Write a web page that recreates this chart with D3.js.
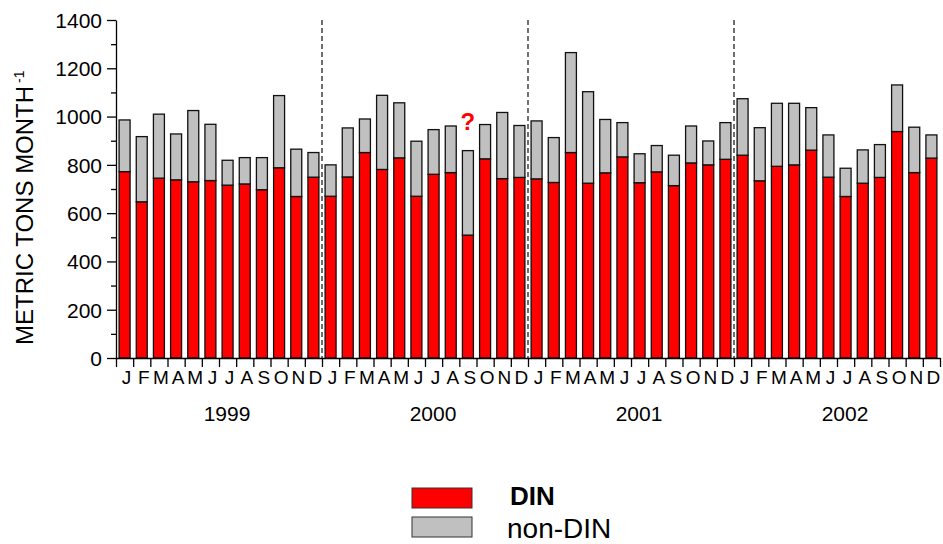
<!DOCTYPE html>
<html>
<head>
<meta charset="utf-8">
<script src="https://cdn.jsdelivr.net/npm/d3@7/dist/d3.min.js"></script>
<style>
  html, body { margin: 0; padding: 0; background: #fff; }
  svg { display: block; }
  text { font-family: "Liberation Sans", Arial, sans-serif; fill: #000; }
</style>
</head>
<body>
<svg id="chart" width="943" height="544"></svg>
<script>
// Monthly loads, 1999-2002 (metric tons per month)
const monthLetters = ["J","F","M","A","M","J","J","A","S","O","N","D"];
const years = ["1999","2000","2001","2002"];

const dinValues = [
  772, 647, 745, 738, 730, 735, 716, 721, 697, 788, 669, 749,
  670, 750, 851, 781, 829, 670, 761, 768, 509, 825, 743, 748,
  742, 727, 851, 724, 767, 833, 726, 771, 714, 808, 800, 823,
  840, 734, 794, 800, 861, 749, 669, 724, 748, 938, 768, 828
];
const nonDinValues = [
  214, 270, 265, 190, 295, 233, 103, 109, 133, 299, 196, 102,
  130, 203, 139, 307, 228, 228, 185, 193, 350, 142, 274, 215,
  240, 186, 414, 379, 221, 142, 120, 109, 126, 153,  99, 152,
  234, 220, 261, 255, 176, 175, 117, 138, 136, 193, 188,  96
];
const yTicks = [0, 200, 400, 600, 800, 1000, 1200, 1400];
const seriesNames = ["DIN", "non-DIN"];
const seriesColors = ["#ff0000", "#c0c0c0"];

const rows = dinValues.map((d, i) => ({ idx: i, "DIN": d, "non-DIN": nonDinValues[i] }));

const svg = d3.select("#chart");
const x0 = 116, x1 = 940, yBottom = 358, yTop = 20;
const nMonths = rows.length;

const x = d3.scaleBand()
  .domain(d3.range(nMonths))
  .range([x0, x1])
  .paddingInner(0.36)
  .paddingOuter(0.18);
const xb = d3.scaleLinear().domain([0, nMonths]).range([x0, x1]);
const y = d3.scaleLinear().domain([0, 1400]).range([yBottom, yTop]);

// year separators
svg.append("g").selectAll("line")
  .data([12, 24, 36])
  .join("line")
  .attr("x1", d => xb(d)).attr("x2", d => xb(d))
  .attr("y1", y(1400)).attr("y2", y(0))
  .attr("stroke", "#222").attr("stroke-width", 1.3)
  .attr("stroke-dasharray", "5,3");

// stacked bars
const stack = d3.stack().keys(seriesNames)(rows);
svg.append("g").selectAll("g")
  .data(stack)
  .join("g")
  .attr("fill", (d, i) => seriesColors[i])
  .selectAll("rect")
  .data(d => d)
  .join("rect")
  .attr("x", d => x(d.data.idx))
  .attr("width", x.bandwidth())
  .attr("y", d => y(d[1]))
  .attr("height", d => y(d[0]) - y(d[1]))
  .attr("stroke", "#111")
  .attr("stroke-width", 1.3);

// y axis: major ticks with labels, minor ticks between
const yAxis = svg.append("g")
  .attr("transform", `translate(${x0},0)`)
  .call(d3.axisLeft(y).tickValues(yTicks).tickFormat(d3.format("d"))
    .tickSize(9).tickSizeOuter(0).tickPadding(5));
yAxis.selectAll("text").style("font-size", "21px").attr("dy", "0.35em");
svg.append("g")
  .attr("transform", `translate(${x0},0)`)
  .call(d3.axisLeft(y).tickValues(d3.range(100, 1400, 200)).tickSize(5).tickFormat(""))
  .call(g => g.select(".domain").remove());

// x axis: ticks at month boundaries
svg.append("g")
  .attr("transform", `translate(0,${yBottom})`)
  .call(d3.axisBottom(xb).tickValues(d3.range(0, nMonths + 1)).tickSize(9).tickSizeOuter(0).tickFormat(""));

svg.selectAll("path.domain, .tick line").attr("stroke", "#000").attr("stroke-width", 1.3);

// month letters
svg.append("g").selectAll("text")
  .data(rows)
  .join("text")
  .attr("x", d => x(d.idx) + x.bandwidth() / 2 + 2)
  .attr("y", 384)
  .attr("text-anchor", "middle")
  .style("font-size", "19px")
  .text(d => monthLetters[d.idx % 12]);

// year labels
svg.append("g").selectAll("text")
  .data(years)
  .join("text")
  .attr("x", (d, i) => xb(i * 12 + 6) + 8)
  .attr("y", 421)
  .attr("text-anchor", "middle")
  .style("font-size", "21px")
  .text(d => d);

// y axis title
const title = svg.append("text")
  .attr("transform", "translate(33,345) rotate(-90)")
  .attr("text-anchor", "start")
  .style("font-size", "24px");
title.append("tspan").text("METRIC TONS MONTH");
title.append("tspan").attr("dx", 3).attr("dy", -9).style("font-size", "14px").text("-1");

// uncertain September 2000 value
svg.append("text")
  .attr("x", x(20) + x.bandwidth() / 2)
  .attr("y", 130)
  .attr("text-anchor", "middle")
  .style("font-size", "24px")
  .style("font-weight", "bold")
  .style("fill", "#ff0000")
  .text("?");

// legend
const legend = svg.append("g");
const legendRows = [
  { name: "DIN", color: seriesColors[0], y: 488, ty: 505, size: "26px", weight: "bold" },
  { name: "non-DIN", color: seriesColors[1], y: 517, ty: 538, size: "28px", weight: "normal" }
];
legend.selectAll("rect")
  .data(legendRows)
  .join("rect")
  .attr("x", 412).attr("y", d => d.y)
  .attr("width", 60).attr("height", 20)
  .attr("fill", d => d.color)
  .attr("stroke", "#333").attr("stroke-width", 1);
legend.selectAll("text")
  .data(legendRows)
  .join("text")
  .attr("x", (d, i) => i === 0 ? 510 : 507)
  .attr("y", d => d.ty)
  .style("font-size", d => d.size)
  .style("font-weight", d => d.weight)
  .text(d => d.name);
</script>
</body>
</html>
